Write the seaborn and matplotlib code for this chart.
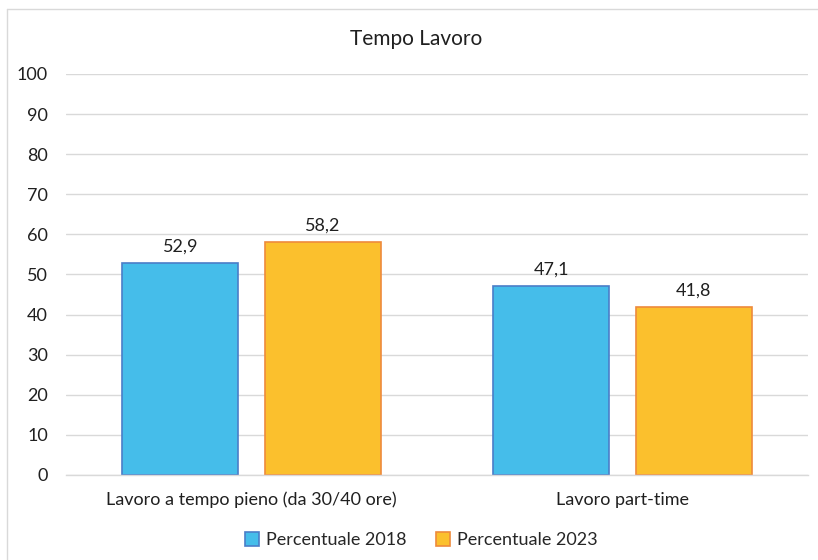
import matplotlib
matplotlib.use("Agg")
import matplotlib.pyplot as plt
import seaborn as sns
import pandas as pd
from matplotlib.patches import Patch
from matplotlib.lines import Line2D

categories = ["Lavoro a tempo pieno (da 30/40 ore)", "Lavoro part-time"]
series_names = ["Percentuale 2018", "Percentuale 2023"]
values_2018 = [52.9, 47.1]
values_2023 = [58.2, 41.8]
yticks = [0, 10, 20, 30, 40, 50, 60, 70, 80, 90, 100]

fills = ["#45BDEA", "#FBC02D"]
edges = ["#4A7EC8", "#EE8A3C"]

df = pd.DataFrame({
    "categoria": categories * 2,
    "serie": [series_names[0]] * 2 + [series_names[1]] * 2,
    "valore": values_2018 + values_2023,
})

sns.set_theme(style="white")
plt.rcParams["font.family"] = ["Lato", "DejaVu Sans"]

fig = plt.figure(figsize=(8.18, 5.60), dpi=100)
ax = fig.add_axes([0.0807, 0.1518, 0.9071, 0.7161])

sns.barplot(data=df, x="categoria", y="valore", hue="serie",
            palette=fills, width=0.768, gap=0.186, ax=ax,
            legend=False, saturation=1)

for cont, ec in zip(ax.containers, edges):
    for bar in cont:
        bar.set_edgecolor(ec)
        bar.set_linewidth(1.2)
    ax.bar_label(cont, labels=[f"{v:.1f}".replace(".", ",") for v in cont.datavalues],
                 padding=6, fontsize=13, color="#202020")

ax.set_ylim(0, 100)
ax.set_xlim(-0.5, 1.5)
ax.set_yticks(yticks)
ax.set_yticklabels([str(t) for t in yticks], fontsize=13, color="#202020")
ax.tick_params(axis="y", length=0, pad=13)
ax.tick_params(axis="x", length=0, pad=12, labelsize=13, labelcolor="#202020")
ax.yaxis.grid(True, color="#D9D9D9", linewidth=1)
ax.set_axisbelow(True)
for s in ["top", "right", "left"]:
    ax.spines[s].set_visible(False)
ax.spines["bottom"].set_color("#D9D9D9")
ax.spines["bottom"].set_linewidth(1)
ax.set_xlabel("")
ax.set_ylabel("")

fig.text(0.509, 0.930, "Tempo Lavoro", ha="center", va="center",
         fontsize=15, color="#202020")

handles = [Patch(facecolor=f, edgecolor=e, linewidth=1.2) for f, e in zip(fills, edges)]
fig.legend(handles, series_names, loc="center", bbox_to_anchor=(0.515, 0.036),
           ncol=2, frameon=False, fontsize=13, handlelength=0.8, handleheight=0.8,
           handletextpad=0.4, columnspacing=1.6)

# outer chart frame
fig.add_artist(Line2D([7 / 818, 1.0], [1 - 9 / 560, 1 - 9 / 560],
                      transform=fig.transFigure, color="#D9D9D9", linewidth=1))
fig.add_artist(Line2D([7 / 818, 7 / 818], [0, 1 - 9 / 560],
                      transform=fig.transFigure, color="#D9D9D9", linewidth=1))

fig.savefig("out.png", dpi=100, facecolor="white")
